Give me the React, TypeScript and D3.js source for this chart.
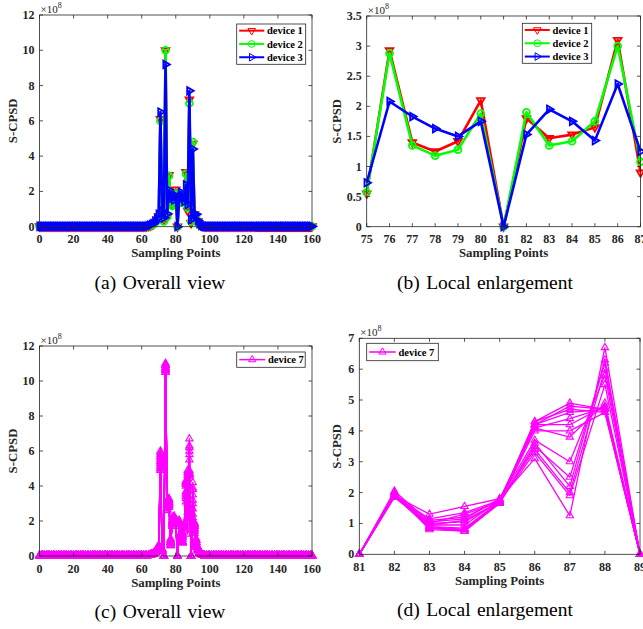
import React from "react";
import * as d3 from "d3";

const W = 643;
const H = 629;
const serif = "'Liberation Serif', 'Times New Roman', serif";
const axisInk = "#262626";

// sampling point indices on the overall views
const overallPoints = d3.range(0, 161);
const overallXTicks = [0, 20, 40, 60, 80, 100, 120, 140, 160];
const overallYTicks = [0, 2, 4, 6, 8, 10, 12];
const enlargeBXTicks = [75, 76, 77, 78, 79, 80, 81, 82, 83, 84, 85, 86, 87];
const enlargeBYTicks = [0, 0.5, 1, 1.5, 2, 2.5, 3, 3.5];
const enlargeDXTicks = [81, 82, 83, 84, 85, 86, 87, 88, 89];
const enlargeDYTicks = [0, 1, 2, 3, 4, 5, 6, 7];

// S-CPSD in units of 1e8. Values read for points 64..96; outside that the
// curves lie flat on the floor (read as ~0.02e8).
const activeStart = 64;
const floorLevel = 0.02;

const device1Active = [0.05, 0.07, 0.1, 0.15, 0.25, 0.4, 0.6, 6.1, 0.6, 0.4, 10.0, 0.55, 2.93, 1.4, 1.25, 1.42, 2.1, 0, 1.8, 1.47, 1.53, 1.65, 3.1, 0.9, 7.2, 0.2, 4.7, 0.7, 0.6, 0.3, 0.15, 0.08, 0.04];
const device2Active = [0.04, 0.06, 0.09, 0.14, 0.22, 0.38, 0.55, 6.0, 0.5, 0.3, 10.0, 0.57, 2.88, 1.35, 1.18, 1.28, 1.88, 0, 1.9, 1.35, 1.42, 1.75, 3.0, 1.08, 7.0, 0.3, 4.8, 0.6, 0.55, 0.25, 0.12, 0.07, 0.04];
const device3Active = [0.05, 0.08, 0.12, 0.18, 0.3, 0.45, 0.7, 6.5, 0.9, 0.5, 9.2, 0.73, 2.08, 1.83, 1.63, 1.5, 1.75, 0, 1.53, 1.95, 1.75, 1.43, 2.37, 1.25, 7.7, 0.4, 4.4, 0.75, 0.7, 0.35, 0.18, 0.08, 0.04];

// device 7: repeated measurements
const device7Active = [
  [0.04, 0.06, 0.1, 0.15, 0.25, 0.4, 0.6, 5.9, 0.4, 0, 11.0, 3.1, 3.2, 0.7, 2.1, 2.2, 2.0, 0, 1.95, 0.85, 0.8, 1.7, 4.3, 4.9, 4.7, 0, 4.2, 1.9, 0.9, 0.5, 0.2, 0.1, 0.05],
  [0.05, 0.07, 0.09, 0.13, 0.22, 0.36, 0.52, 5.6, 0.35, 0, 10.9, 3.0, 3.1, 0.9, 1.9, 2.1, 1.9, 0, 1.9, 0.9, 0.8, 1.7, 4.2, 4.8, 4.7, 0, 3.8, 1.8, 0.8, 0.4, 0.2, 0.1, 0.05],
  [0.03, 0.05, 0.08, 0.12, 0.2, 0.32, 0.45, 5.3, 0.3, 0, 10.8, 2.9, 3.0, 1.0, 1.8, 2.0, 1.8, 0, 1.9, 0.85, 0.8, 1.65, 4.2, 4.6, 4.7, 0, 3.5, 1.6, 0.7, 0.4, 0.2, 0.1, 0.05],
  [0.04, 0.06, 0.1, 0.14, 0.23, 0.38, 0.55, 5.1, 0.3, 0, 10.7, 2.8, 3.0, 0.8, 1.9, 2.1, 2.1, 0, 2.0, 0.9, 0.85, 1.7, 4.1, 4.4, 4.75, 0, 3.2, 1.7, 0.8, 0.4, 0.2, 0.1, 0.04],
  [0.05, 0.07, 0.1, 0.15, 0.24, 0.4, 0.58, 5.0, 0.25, 0, 10.6, 2.7, 2.9, 0.6, 2.0, 2.2, 2.0, 0, 1.9, 0.95, 0.95, 1.75, 4.2, 4.2, 4.8, 0, 3.0, 1.5, 0.7, 0.35, 0.2, 0.1, 0.05],
  [0.03, 0.05, 0.08, 0.12, 0.2, 0.33, 0.5, 4.9, 0.3, 0, 10.5, 2.6, 2.8, 0.9, 1.7, 1.9, 1.7, 0, 1.85, 1.0, 1.05, 1.7, 4.0, 4.0, 4.6, 0, 2.7, 1.4, 0.6, 0.3, 0.15, 0.08, 0.04],
  [0.05, 0.07, 0.11, 0.16, 0.26, 0.42, 0.6, 6.0, 0.4, 0, 11.0, 3.2, 3.3, 0.7, 2.2, 2.3, 2.1, 0, 2.05, 1.05, 1.15, 1.8, 4.1, 3.8, 4.9, 0, 2.4, 1.8, 0.9, 0.5, 0.2, 0.1, 0.05],
  [0.04, 0.06, 0.09, 0.14, 0.22, 0.36, 0.5, 5.4, 0.35, 0, 10.7, 2.9, 3.0, 0.8, 1.8, 2.0, 1.9, 0, 1.9, 1.1, 1.2, 1.75, 3.7, 3.0, 5.8, 0, 2.0, 1.7, 0.8, 0.4, 0.2, 0.1, 0.05],
  [0.04, 0.06, 0.1, 0.14, 0.23, 0.37, 0.52, 5.5, 0.3, 0, 10.8, 3.0, 3.1, 0.9, 1.9, 2.1, 2.0, 0, 1.95, 1.0, 1.3, 1.7, 3.5, 2.5, 6.2, 0, 1.8, 1.6, 0.7, 0.4, 0.2, 0.1, 0.05],
  [0.05, 0.07, 0.1, 0.15, 0.25, 0.4, 0.56, 5.2, 0.3, 0, 10.6, 2.8, 2.9, 0.7, 1.8, 2.0, 1.8, 0, 1.9, 1.15, 1.35, 1.75, 3.4, 2.0, 6.0, 0, 1.6, 1.5, 0.6, 0.35, 0.15, 0.08, 0.04],
  [0.03, 0.05, 0.08, 0.12, 0.2, 0.34, 0.48, 5.0, 0.25, 0, 10.5, 2.7, 2.8, 0.6, 1.7, 1.9, 1.7, 0, 1.85, 0.95, 1.1, 1.7, 3.3, 1.9, 5.5, 0, 1.5, 1.3, 0.5, 0.3, 0.15, 0.08, 0.04],
  [0.05, 0.08, 0.11, 0.16, 0.27, 0.43, 0.62, 5.8, 0.4, 0, 10.9, 3.1, 3.2, 0.8, 2.0, 2.2, 2.1, 0, 1.9, 1.3, 1.55, 1.8, 3.1, 1.25, 6.7, 0, 1.3, 1.9, 1.0, 0.5, 0.2, 0.1, 0.05],
  [0.04, 0.06, 0.1, 0.14, 0.23, 0.38, 0.54, 5.4, 0.3, 0, 10.7, 2.9, 3.0, 0.9, 1.9, 2.0, 1.9, 0, 1.9, 0.85, 0.75, 1.65, 3.6, 2.2, 6.3, 0, 2.2, 1.7, 0.8, 0.4, 0.2, 0.1, 0.05],
  [0.04, 0.06, 0.1, 0.15, 0.24, 0.39, 0.56, 5.7, 0.35, 0, 10.9, 3.0, 3.1, 0.8, 2.0, 2.1, 2.0, 0, 2.0, 0.8, 0.75, 1.7, 4.3, 4.7, 4.6, 0, 3.9, 1.8, 0.9, 0.45, 0.2, 0.1, 0.05],
];

type Shape = "down" | "circle" | "right" | "up";

function fullSeries(active: number[]) {
  return overallPoints.map((p) => {
    const i = p - activeStart;
    return i >= 0 && i < active.length ? active[i] : floorLevel;
  });
}

function markerPath(shape: Shape, x: number, y: number, h: number) {
  const a = h * 1.15;
  const b = h * 0.58;
  if (shape === "down") return `M${x - h},${y - b}L${x + h},${y - b}L${x},${y + a}Z`;
  if (shape === "up") return `M${x - h},${y + b}L${x + h},${y + b}L${x},${y - a}Z`;
  if (shape === "right") return `M${x - b},${y - h}L${x - b},${y + h}L${x + a},${y}Z`;
  return `M${x + h},${y}A${h},${h} 0 1,1 ${x - h},${y}A${h},${h} 0 1,1 ${x + h},${y}Z`;
}

type Series = {
  name: string;
  color: string;
  shape: Shape;
  curves: number[][];
  lineWidth: number;
  markerWidth: number;
  markerSize: number;
};

const devices123: Series[] = [
  { name: "device 1", color: "#ff0000", shape: "down", curves: [fullSeries(device1Active)], lineWidth: 2.6, markerWidth: 1.8, markerSize: 3.8 },
  { name: "device 2", color: "#00ff00", shape: "circle", curves: [fullSeries(device2Active)], lineWidth: 2.6, markerWidth: 1.8, markerSize: 3.4 },
  { name: "device 3", color: "#0000ff", shape: "right", curves: [fullSeries(device3Active)], lineWidth: 2.6, markerWidth: 1.8, markerSize: 3.8 },
];

const device7: Series[] = [
  { name: "device 7", color: "#ff00ff", shape: "up", curves: device7Active.map(fullSeries), lineWidth: 1.3, markerWidth: 1.1, markerSize: 3.6 },
];

type Box = { left: number; right: number; top: number; bottom: number };
type Legend = { x: number; y: number; w: number; h: number; row: number; lineLen: number };

function Panel(props: {
  box: Box;
  xDomain: [number, number];
  yDomain: [number, number];
  xTicks: number[];
  yTicks: number[];
  series: Series[];
  legend: Legend;
  caption: string;
  captionX: number;
  yLabelX: number;
}) {
  const { box, series, legend } = props;
  const x = d3.scaleLinear().domain(props.xDomain).range([box.left, box.right]);
  const y = d3.scaleLinear().domain(props.yDomain).range([box.bottom, box.top]);
  const pts = overallPoints.filter((p) => p >= props.xDomain[0] && p <= props.xDomain[1]);
  const tl = 3.5;

  return (
    <g>
      {series.map((s) =>
        s.curves.map((c, ci) => {
          const line = d3.line<number>().x((p) => x(p)).y((p) => y(c[p]));
          const marks = pts.map((p) => markerPath(s.shape, x(p), y(c[p]), s.markerSize)).join("");
          return (
            <g key={s.name + ci}>
              <path d={line(pts) || ""} fill="none" stroke={s.color} strokeWidth={s.lineWidth} strokeLinejoin="round" />
              <path d={marks} fill="none" stroke={s.color} strokeWidth={s.markerWidth} />
            </g>
          );
        })
      )}

      <rect x={box.left} y={box.top} width={box.right - box.left} height={box.bottom - box.top} fill="none" stroke={axisInk} strokeWidth={0.8} />
      {props.xTicks.map((t) => (
        <g key={"x" + t}>
          <line x1={x(t)} x2={x(t)} y1={box.bottom} y2={box.bottom - tl} stroke={axisInk} strokeWidth={0.8} />
          <line x1={x(t)} x2={x(t)} y1={box.top} y2={box.top + tl} stroke={axisInk} strokeWidth={0.8} />
          <text x={x(t)} y={box.bottom + 16.5} textAnchor="middle" fontFamily={serif} fontWeight="bold" fontSize={12} fill={axisInk}>
            {t}
          </text>
        </g>
      ))}
      {props.yTicks.map((t) => (
        <g key={"y" + t}>
          <line x1={box.left} x2={box.left + tl} y1={y(t)} y2={y(t)} stroke={axisInk} strokeWidth={0.8} />
          <line x1={box.right} x2={box.right - tl} y1={y(t)} y2={y(t)} stroke={axisInk} strokeWidth={0.8} />
          <text x={box.left - 5} y={y(t) + 4} textAnchor="end" fontFamily={serif} fontWeight="bold" fontSize={12} fill={axisInk}>
            {t}
          </text>
        </g>
      ))}

      <text x={box.left + 1} y={box.top - 2.5} fontFamily={serif} fontSize={11} fill={axisInk}>
        ×10<tspan fontSize={8} dy={-5}>8</tspan>
      </text>

      <text x={(box.left + box.right) / 2} y={box.bottom + 30.5} textAnchor="middle" fontFamily={serif} fontWeight="bold" fontSize={12.8} fill={axisInk}>
        Sampling Points
      </text>
      <text transform={`translate(${props.yLabelX},${(box.top + box.bottom) / 2}) rotate(-90)`} textAnchor="middle" fontFamily={serif} fontWeight="bold" fontSize={12.8} fill={axisInk}>
        S-CPSD
      </text>

      <g>
        <rect x={legend.x} y={legend.y} width={legend.w} height={legend.h} fill="#fff" stroke={axisInk} strokeWidth={0.8} />
        {series.map((s, i) => {
          const cy = legend.y + legend.row / 2 + i * legend.row;
          const x0 = legend.x + 2.5;
          const x1 = x0 + legend.lineLen;
          return (
            <g key={"lg" + s.name}>
              <line x1={x0} x2={x1} y1={cy} y2={cy} stroke={s.color} strokeWidth={s.lineWidth < 2 ? 1.5 : 2} />
              <path d={markerPath(s.shape, (x0 + x1) / 2, cy, s.markerSize)} fill="none" stroke={s.color} strokeWidth={1} />
              <text x={x1 + 2.8} y={cy + 3.6} fontFamily={serif} fontWeight="bold" fontSize={10.5} fill="#000">
                {s.name}
              </text>
            </g>
          );
        })}
      </g>

      <text x={props.captionX} y={box.bottom + 62} textAnchor="middle" fontFamily={serif} fontSize={19.5} fill="#000" wordSpacing={1.5}>
        {props.caption}
      </text>
    </g>
  );
}

export default function App() {
  return (
    <svg width={W} height={H} style={{ position: "absolute", left: 0, top: 0, background: "#fff" }}>
      <rect width={W} height={H} fill="#fff" />
      <Panel
        box={{ left: 39.5, right: 312, top: 15, bottom: 226.7 }}
        xDomain={[0, 160]}
        yDomain={[0, 12]}
        xTicks={overallXTicks}
        yTicks={overallYTicks}
        series={devices123}
        legend={{ x: 236.7, y: 24, w: 69, h: 40.3, row: 13.3, lineLen: 25 }}
        caption="(a) Overall view"
        captionX={160}
        yLabelX={17}
      />
      <Panel
        box={{ left: 366.7, right: 640.5, top: 16, bottom: 226.7 }}
        xDomain={[75, 87]}
        yDomain={[0, 3.5]}
        xTicks={enlargeBXTicks}
        yTicks={enlargeBYTicks}
        series={devices123}
        legend={{ x: 522.3, y: 23.3, w: 69.4, h: 40, row: 13.3, lineLen: 25 }}
        caption="(b) Local enlargement"
        captionX={485}
        yLabelX={341}
      />
      <Panel
        box={{ left: 39.5, right: 312, top: 346, bottom: 556 }}
        xDomain={[0, 160]}
        yDomain={[0, 12]}
        xTicks={overallXTicks}
        yTicks={overallYTicks}
        series={device7}
        legend={{ x: 236.7, y: 352, w: 68.5, h: 15.3, row: 15.3, lineLen: 26 }}
        caption="(c) Overall view"
        captionX={160}
        yLabelX={17}
      />
      <Panel
        box={{ left: 359.3, right: 640, top: 338.3, bottom: 554.3 }}
        xDomain={[81, 89]}
        yDomain={[0, 7]}
        xTicks={enlargeDXTicks}
        yTicks={enlargeDYTicks}
        series={device7}
        legend={{ x: 366.7, y: 343.3, w: 71.6, h: 17.4, row: 17.4, lineLen: 26.5 }}
        caption="(d) Local enlargement"
        captionX={485}
        yLabelX={341}
      />
    </svg>
  );
}
